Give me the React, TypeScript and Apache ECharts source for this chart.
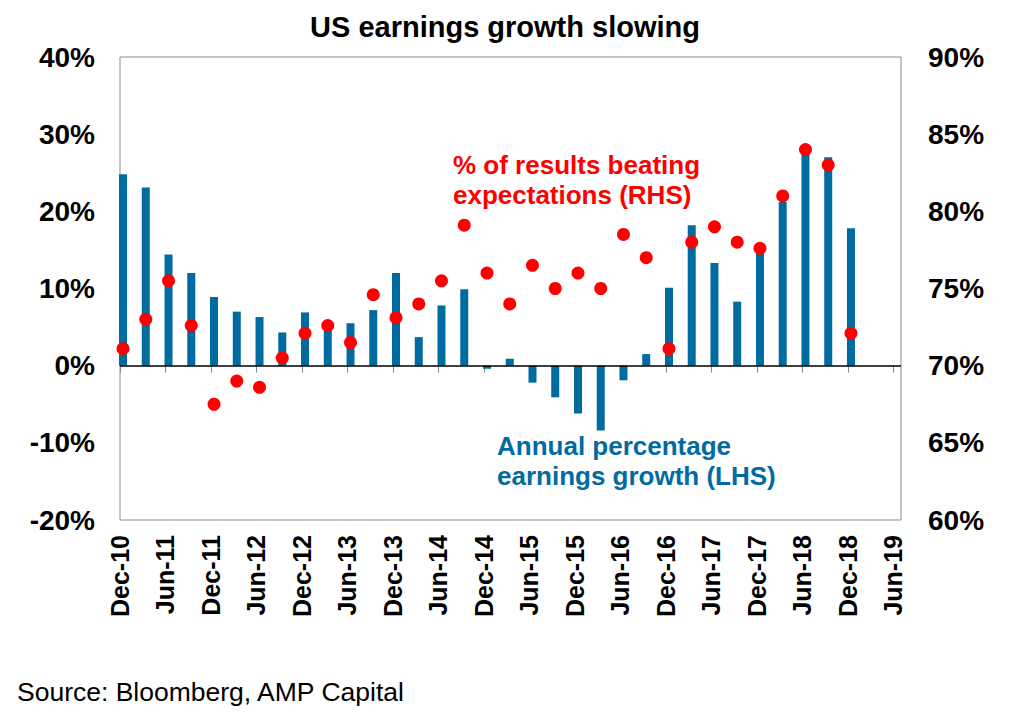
import React, { useEffect, useRef } from "react";
import * as echarts from "echarts";

// Quarterly observations (Dec-10 .. Dec-18)
const quarters = [
  "Dec-10", "Mar-11", "Jun-11", "Sep-11", "Dec-11", "Mar-12", "Jun-12", "Sep-12",
  "Dec-12", "Mar-13", "Jun-13", "Sep-13", "Dec-13", "Mar-14", "Jun-14", "Sep-14",
  "Dec-14", "Mar-15", "Jun-15", "Sep-15", "Dec-15", "Mar-16", "Jun-16", "Sep-16",
  "Dec-16", "Mar-17", "Jun-17", "Sep-17", "Dec-17", "Mar-18", "Jun-18", "Sep-18",
  "Dec-18",
];

// Annual percentage earnings growth (LHS, %)
const earningsGrowth = [
  24.8, 23.1, 14.4, 12.0, 8.9, 7.0, 6.3, 4.3,
  6.9, 5.6, 5.5, 7.2, 12.0, 3.7, 7.8, 9.9,
  -0.4, 0.9, -2.2, -4.1, -6.2, -8.4, -1.9, 1.5,
  10.1, 18.2, 13.3, 8.3, 15.0, 21.2, 27.9, 27.0,
  17.8,
];

// % of results beating expectations (RHS, %)
const beatRate = [
  71.1, 73.0, 75.5, 72.6, 67.5, 69.0, 68.6, 70.5,
  72.1, 72.6, 71.5, 74.6, 73.1, 74.0, 75.5, 79.1,
  76.0, 74.0, 76.5, 75.0, 76.0, 75.0, 78.5, 77.0,
  71.1, 78.0, 79.0, 78.0, 77.6, 81.0, 84.0, 83.0,
  72.1,
];

// x-axis tick labels every six months
const xTickLabels = [
  "Dec-10", "Jun-11", "Dec-11", "Jun-12", "Dec-12", "Jun-13", "Dec-13", "Jun-14",
  "Dec-14", "Jun-15", "Dec-15", "Jun-16", "Dec-16", "Jun-17", "Dec-17", "Jun-18",
  "Dec-18", "Jun-19",
];

const MONTHS_PER_QUARTER = 3;
const MONTHS_PER_TICK = 6;
const DATA_OFFSET = 0.4; // observations sit slightly after the start of the month

const FONT = '"Liberation Sans", Arial, sans-serif';
const BLUE = "#006BA1";
const RED = "#FF0000";

export default function App() {
  const ref = useRef<HTMLDivElement>(null);

  useEffect(() => {
    document.body.style.margin = "0";
    if (!ref.current) return;
    const chart = echarts.init(ref.current, undefined, { renderer: "svg" });

    const xOf = (i: number) => i * MONTHS_PER_QUARTER + DATA_OFFSET;
    const tickValues = xTickLabels.map((_, i) => i * MONTHS_PER_TICK);

    const option: any = {
      animation: false,
      backgroundColor: "#ffffff",
      grid: {
        left: 120,
        right: 123,
        top: 57,
        bottom: 203,
        show: true,
        borderColor: "#8c8c8c",
        borderWidth: 1,
        backgroundColor: "transparent",
      },
      xAxis: {
        type: "value",
        min: 0,
        max: 103,
        axisLine: { show: false },
        splitLine: { show: false },
        axisTick: {
          show: true,
          length: 7,
          lineStyle: { color: "#8c8c8c", width: 1 },
          customValues: tickValues,
        },
        axisLabel: {
          customValues: tickValues,
          rotate: 90,
          margin: 15,
          color: "#000",
          fontFamily: FONT,
          fontWeight: "bold",
          fontSize: 25,
          formatter: (v: number) => xTickLabels[Math.round(v / MONTHS_PER_TICK)] ?? "",
        },
      },
      yAxis: [
        {
          type: "value",
          min: -20,
          max: 40,
          interval: 10,
          axisLine: { show: false },
          axisTick: { show: false },
          splitLine: { show: false },
          axisLabel: {
            margin: 25,
            color: "#000",
            fontFamily: FONT,
            fontWeight: "bold",
            fontSize: 28,
            formatter: (v: number) => `${v}%`,
          },
        },
        {
          type: "value",
          position: "right",
          min: 60,
          max: 90,
          interval: 5,
          axisLine: { show: false },
          axisTick: { show: false },
          splitLine: { show: false },
          axisLabel: {
            margin: 27,
            color: "#000",
            fontFamily: FONT,
            fontWeight: "bold",
            fontSize: 28,
            formatter: (v: number) => `${v}%`,
          },
        },
      ],
      series: [
        {
          name: "Annual percentage earnings growth (LHS)",
          type: "bar",
          yAxisIndex: 0,
          barWidth: 8,
          itemStyle: { color: BLUE },
          data: quarters.map((_, i) => [xOf(i), earningsGrowth[i]]),
          markLine: {
            silent: true,
            symbol: ["none", "none"],
            label: { show: false },
            lineStyle: { color: "#000", width: 1.5, type: "solid" },
            data: [{ yAxis: 0 }],
          },
          z: 2,
        },
        {
          name: "% of results beating expectations (RHS)",
          type: "scatter",
          yAxisIndex: 1,
          symbol: "circle",
          symbolSize: 13,
          itemStyle: { color: RED, opacity: 1 },
          data: quarters.map((_, i) => [xOf(i), beatRate[i]]),
          z: 3,
        },
      ],
      graphic: [
        {
          type: "text",
          x: 505,
          y: 27,
          style: {
            text: "US earnings growth slowing",
            font: `bold 29px ${FONT}`,
            fill: "#000",
            textAlign: "center",
            textVerticalAlign: "middle",
          },
        },
        {
          type: "text",
          x: 453,
          y: 150,
          style: {
            text: "% of results beating\nexpectations (RHS)",
            font: `bold 26px ${FONT}`,
            lineHeight: 30,
            fill: RED,
            textAlign: "left",
            textVerticalAlign: "top",
          },
        },
        {
          type: "text",
          x: 497,
          y: 431,
          style: {
            text: "Annual percentage\nearnings growth (LHS)",
            font: `bold 26px ${FONT}`,
            lineHeight: 30,
            fill: BLUE,
            textAlign: "left",
            textVerticalAlign: "top",
          },
        },
        {
          type: "text",
          x: 17,
          y: 692,
          style: {
            text: "Source: Bloomberg, AMP Capital",
            font: `26.5px ${FONT}`,
            fill: "#000",
            textAlign: "left",
            textVerticalAlign: "middle",
          },
        },
      ],
    };

    chart.setOption(option);
    return () => chart.dispose();
  }, []);

  return <div ref={ref} style={{ width: 1024, height: 723 }} />;
}
